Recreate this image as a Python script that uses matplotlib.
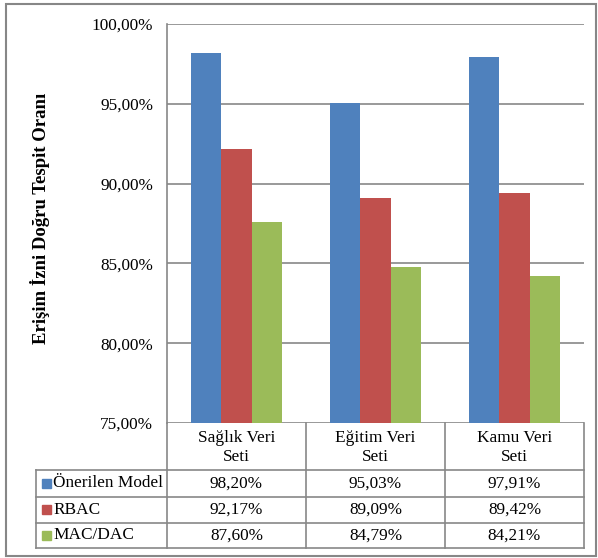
import matplotlib.pyplot as plt
from matplotlib.patches import Rectangle

plt.rcParams['font.family'] = ['Liberation Serif', 'DejaVu Serif']

# veri
kategoriler = ['Sağlık Veri\nSeti', 'Eğitim Veri\nSeti', 'Kamu Veri\nSeti']
seriler = ['Önerilen Model', 'RBAC', 'MAC/DAC']
onerilen = [98.20, 95.03, 97.91]
rbac = [92.17, 89.09, 89.42]
mac_dac = [87.60, 84.79, 84.21]
degerler = [onerilen, rbac, mac_dac]
renkler = ['#4F81BD', '#C0504D', '#9BBB59']
yticks = [75, 80, 85, 90, 95, 100]

W, H = 598, 558
fig = plt.figure(figsize=(W / 100, H / 100), dpi=100)

# grafik alani (piksel)
px_left, px_right, px_top, px_bot = 167, 584, 24, 423
cat_px = (px_right - px_left) / len(kategoriler)
ax = fig.add_axes([px_left / W, 1 - px_bot / H,
                   (px_right - px_left) / W, (px_bot - px_top) / H])

gri = '#878787'
fs = 12.4
bw = 0.218
for j, (vals, renk) in enumerate(zip(degerler, renkler)):
    xs = [i + 0.5 + (j - 1) * bw for i in range(len(kategoriler))]
    ax.bar(xs, [v - 75 for v in vals], bottom=75, width=bw, color=renk,
           edgecolor='none', zorder=3)

ax.set_xlim(0, len(kategoriler))
ax.set_ylim(75, 100)
ax.set_yticks(yticks)
ax.set_yticklabels([f'{t:.2f}%'.replace('.', ',') for t in yticks], fontsize=fs)
ax.tick_params(axis='y', length=0, pad=10)
ax.set_xticks([])
ax.grid(axis='y', color=gri, lw=1.2, zorder=0)
for s in ['top', 'right', 'bottom']:
    ax.spines[s].set_visible(False)
ax.spines['left'].set_color(gri)
ax.spines['left'].set_linewidth(1.2)
ax.set_ylabel('Erişim İzni Doğru Tespit Oranı', fontsize=13.5,
              fontweight='bold')
ax.yaxis.set_label_coords(-0.281, 0.512)

# veri tablosu
leg_w = 0.94
tb_top, tb_bot = 423, 548
tax = fig.add_axes([(px_left - leg_w * cat_px) / W, 1 - tb_bot / H,
                    (px_right - px_left + leg_w * cat_px) / W,
                    (tb_bot - tb_top) / H])
tax.set_xlim(-leg_w, len(kategoriler))
tax.set_ylim(0, tb_bot - tb_top)
tax.axis('off')
n = len(kategoriler)
satir_y = [78, 51.5, 25.5, 0]
lw = 1.2
# yatay cizgiler
for y in satir_y:
    tax.plot([-leg_w, n], [y, y], color=gri, lw=lw, clip_on=False)
# dikey cizgiler
tax.plot([-leg_w, -leg_w], [0, satir_y[0]], color=gri, lw=lw, clip_on=False)
for i in range(n + 1):
    tax.plot([i, i], [0, tb_bot - tb_top], color=gri, lw=lw, clip_on=False)

for i, k in enumerate(kategoriler):
    tax.text(i + 0.5, 100.5, k, ha='center', va='center',
             fontsize=fs, linespacing=1.25)

for j, (ad, vals, renk) in enumerate(zip(seriler, degerler, renkler)):
    yc = (satir_y[j] + satir_y[j + 1]) / 2
    tax.add_patch(Rectangle((-leg_w + 0.041, yc - 4.5), 0.065, 9, color=renk,
                            clip_on=False))
    tax.text(-leg_w + 0.122, yc, ad, ha='left', va='center', fontsize=fs)
    for i, v in enumerate(vals):
        tax.text(i + 0.5, yc, f'{v:.2f}%'.replace('.', ','), ha='center',
                 va='center', fontsize=fs)

# dis cerceve
fig.add_artist(Rectangle((6 / W, 1 - 556 / H), 590 / W, 552 / H,
                         transform=fig.transFigure, fill=False,
                         edgecolor=gri, lw=1.5))

fig.savefig('out.png', dpi=100)
